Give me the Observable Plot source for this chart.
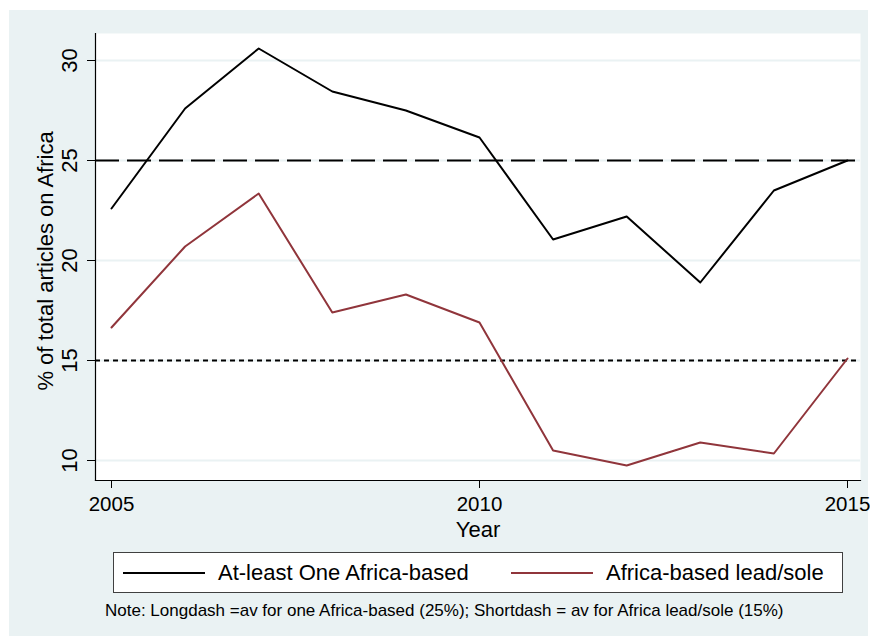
<!DOCTYPE html>
<html>
<head>
<meta charset="utf-8">
<script src="https://cdn.jsdelivr.net/npm/d3@7"></script>
<script src="https://cdn.jsdelivr.net/npm/@observablehq/plot@0.6"></script>
<style>
  body { margin: 0; background: #ffffff; font-family: "Liberation Sans", Arial, sans-serif; }
  #bg { position: absolute; left: 9px; top: 10px; width: 859px; height: 626px; background: #eaf2f3; }
  #chart { position: absolute; left: 0; top: 0; }
  #chart svg { overflow: visible; }
  #legend {
    position: absolute; left: 113px; top: 552px; width: 730px; height: 41px;
    box-sizing: border-box; border: 1px solid #404040; background: #ffffff;
    font-size: 22px; color: #000;
  }
  .item { position: absolute; top: 0; height: 39px; display: flex; align-items: center; }
  .swatch { display: inline-block; height: 2px; width: 82px; margin-right: 13px; }
  #note { position: absolute; left: 105px; top: 601px; font-size: 17px; color: #000; white-space: nowrap; }
</style>
</head>
<body>
<div id="bg"></div>
<div id="chart"></div>
<div id="legend"></div>
<div id="note"></div>
<script>
// Share of articles on Africa, by year
const years = [2005, 2006, 2007, 2008, 2009, 2010, 2011, 2012, 2013, 2014, 2015];
const atLeastOne = [22.6, 27.6, 30.6, 28.45, 27.5, 26.15, 21.05, 22.2, 18.9, 23.5, 25.0];
const leadSole = [16.65, 20.7, 23.35, 17.4, 18.3, 16.9, 10.5, 9.75, 10.9, 10.35, 15.1];

const seriesNames = ["At-least One Africa-based", "Africa-based lead/sole"];
const seriesColors = ["#000000", "#90353b"];

// Period averages drawn as reference lines
const avgOne = 25;
const avgLead = 15;

const xTicks = [2005, 2010, 2015];
const yTicks = [10, 15, 20, 25, 30];

const yTitle = "% of total articles on Africa";
const xTitle = "Year";
const noteText = "Note: Longdash =av for one Africa-based (25%); Shortdash = av for Africa lead/sole (15%)";

const rows = [
  ...years.map((year, i) => ({year, value: atLeastOne[i], series: seriesNames[0]})),
  ...years.map((year, i) => ({year, value: leadSole[i], series: seriesNames[1]}))
];

const chart = Plot.plot({
  width: 870,
  height: 540,
  marginLeft: 95,
  marginRight: 10,
  marginTop: 33,
  marginBottom: 60,
  insetLeft: 16,
  insetRight: 13,
  insetTop: 27,
  insetBottom: 20,
  style: {
    background: "transparent",
    fontFamily: "'Liberation Sans', Arial, sans-serif",
    fontSize: "22px",
    color: "#000"
  },
  x: {domain: [2005, 2015], label: null},
  y: {domain: [10, 30], label: null},
  color: {domain: seriesNames, range: seriesColors},
  marks: [
    Plot.frame({fill: "#ffffff", stroke: "none"}),
    Plot.gridY(yTicks, {stroke: "#eaf2f3", strokeOpacity: 1, strokeWidth: 2}),
    Plot.ruleY([avgOne], {stroke: "#000", strokeWidth: 2, strokeDasharray: "24,8"}),
    Plot.ruleY([avgLead], {stroke: "#000", strokeWidth: 2, strokeDasharray: "5,4"}),
    Plot.line(rows, {x: "year", y: "value", z: "series", stroke: "series", strokeWidth: 2}),
    Plot.frame({anchor: "left", stroke: "#000", strokeWidth: 1.2}),
    Plot.frame({anchor: "bottom", stroke: "#000", strokeWidth: 1.2}),
    Plot.axisY({ticks: yTicks, tickSize: 8, tickPadding: 11, tickRotate: -90, label: null, stroke: "#000", fontSize: 22}),
    Plot.axisX({ticks: xTicks, tickSize: 8, tickPadding: 8, tickFormat: "d", label: null, stroke: "#000", fontSize: 20.5}),
    Plot.text([xTitle], {text: d => d, frameAnchor: "bottom", dy: 41, lineAnchor: "top", fontSize: 22}),
    Plot.text([yTitle], {text: d => d, frameAnchor: "left", textAnchor: "middle", dx: -50, dy: 4, rotate: -90, fontSize: 22})
  ]
});
document.getElementById("chart").appendChild(chart);

// Legend built from the series names and colours
const legend = document.getElementById("legend");
const itemLeft = [9, 397];
seriesNames.forEach((name, i) => {
  const item = document.createElement("div");
  item.className = "item";
  item.style.left = itemLeft[i] + "px";
  const sw = document.createElement("span");
  sw.className = "swatch";
  sw.style.background = seriesColors[i];
  const label = document.createElement("span");
  label.textContent = name;
  item.appendChild(sw);
  item.appendChild(label);
  legend.appendChild(item);
});

document.getElementById("note").textContent = noteText;
</script>
</body>
</html>
